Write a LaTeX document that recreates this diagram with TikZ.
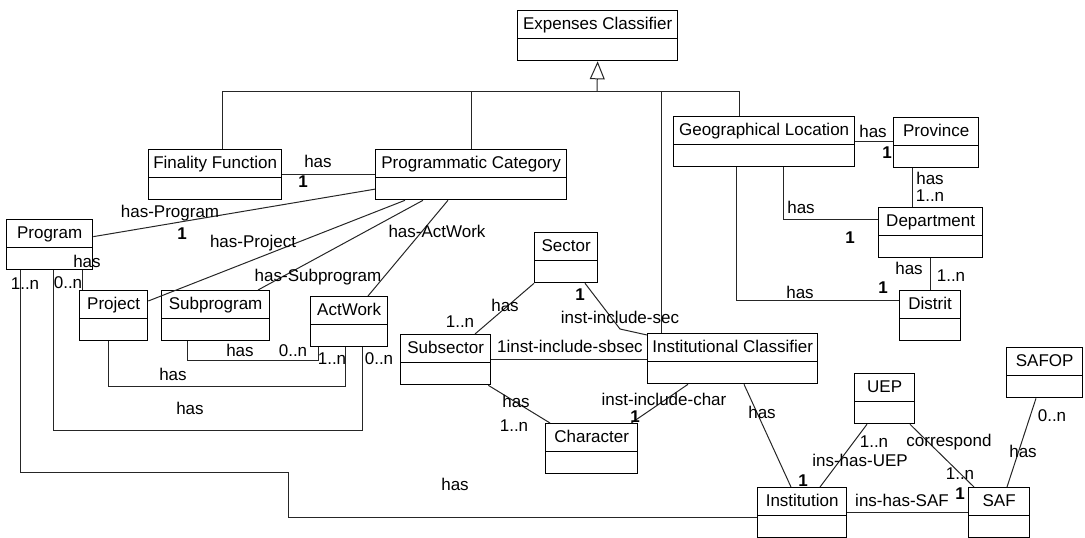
\documentclass[tikz,border=0pt]{standalone}
\usepackage{fontspec}
\setmainfont{Liberation Sans}
\usetikzlibrary{arrows.meta}

\begin{document}
\begin{tikzpicture}[
  x=1pt, y=-1pt,
  font=\fontsize{17}{20}\selectfont,
  cls/.style={draw, line width=1.3pt, anchor=north west, inner sep=0pt,
    minimum width=#1, minimum height=50pt, text height=18.5pt, text depth=31.5pt,
    path picture={\draw[line width=1pt]
      ([yshift=-28pt]path picture bounding box.north west) --
      ([yshift=-28pt]path picture bounding box.north east);}},
  lbl/.style={anchor=base, inner sep=0pt},
  link/.style={line width=1pt, black!85},
  inherit/.style={link, -{Triangle[open, length=18pt, width=15pt]}}
]
\useasboundingbox (0,0) rectangle (1085,538);

% classes
\node[cls=160pt] (expc) at (517,10) {Expenses Classifier};
\node[cls=133pt] (finf) at (148,149) {Finality Function};
\node[cls=191pt] (progc) at (375,149) {Programmatic Category};
\node[cls=181pt] (geo) at (673,116) {Geographical Location};
\node[cls=85pt] (prov) at (893,117) {Province};
\node[cls=104pt] (dept) at (878,207) {Department};
\node[cls=61pt] (dist) at (899,290) {Distrit};
\node[cls=86pt] (prog) at (6,219) {Program};
\node[cls=68pt] (proj) at (79,290) {Project};
\node[cls=108pt] (subp) at (161,290) {Subprogram};
\node[cls=77pt] (actw) at (310,296) {ActWork};
\node[cls=63pt] (sect) at (534,232) {Sector};
\node[cls=90pt] (subs) at (400,334) {Subsector};
\node[cls=92pt] (chr) at (545,423) {Character};
\node[cls=170pt] (instc) at (647,333) {Institutional Classifier};
\node[cls=89pt] (inst) at (757,487) {Institution};
\node[cls=60pt] (uep) at (854,373) {UEP};
\node[cls=61pt] (saf) at (968,487) {SAF};
\node[cls=76pt] (safop) at (1006,347) {SAFOP};

% generalization
\coordinate (gen) at (597,91);
\draw[inherit] (gen) -- (expc.south);
\draw[link] (gen) -| ([xshift=74pt]finf.north west);
\draw[link] (gen) -| (progc.north);
\draw[link] (gen) -| ([xshift=14pt]instc.north west);
\draw[link] (gen) -| ([xshift=66pt]geo.north west);

% programmatic side
\draw[link] (finf.east) -- (finf.east -| progc.west);
\draw[link] ([yshift=8pt]prog.east) -- ([yshift=-14.5pt]progc.west);
\draw[link] ([xshift=76pt]prog.south west) -- ([xshift=3pt]proj.north west);
\draw[link] ([yshift=-11pt]proj.north east) -- ([xshift=30pt]progc.south west);
\draw[link] ([xshift=97pt]subp.north west) -- ([xshift=48pt]progc.south west);
\draw[link] ([xshift=58pt]actw.north west) -- ([xshift=73pt]progc.south west);
\draw[link] ([xshift=26pt]subp.south west) |- ([xshift=8pt,yshift=-13pt]actw.south west) -- ([xshift=8pt]actw.south west);
\draw[link] ([xshift=29pt]proj.south west) |- ([xshift=35pt,yshift=-39pt]actw.south west) -- ([xshift=35pt]actw.south west);
\draw[link] ([xshift=47pt]prog.south west) |- ([xshift=52pt,yshift=-83pt]actw.south west) -- ([xshift=52pt]actw.south west);
\coordinate (jog) at (288,472);
\draw[link] ([xshift=14pt]prog.south west) |- (jog) |- ([yshift=-30pt]inst.north west);

% institutional side
\coordinate (kink) at (620,329);
\draw[link] (sect.south west) -- ([xshift=75pt]subs.north west);
\draw[link] ([xshift=51pt]sect.south west) -- (kink) -- ([yshift=-2pt]instc.north west);
\draw[link] (subs.east) -- (subs.east -| instc.west);
\draw[link] ([xshift=-3pt]subs.south east) -- ([xshift=5pt]chr.north west);
\draw[link] ([xshift=-7pt]chr.north east) -- ([xshift=41pt]instc.south west);
\draw[link] ([xshift=97pt]instc.south west) -- ([xshift=34pt]inst.north west);
\draw[link] ([xshift=13pt]uep.south west) -- ([xshift=63pt]inst.north west);
\draw[link] ([xshift=56pt]uep.south west) -- ([xshift=6pt]saf.north west);
\draw[link] (inst.east) -- (inst.east -| saf.west);
\draw[link] ([xshift=30pt]safop.south west) -- ([xshift=39pt]saf.north west);

% geographical side
\draw[link] (geo.east) -- (geo.east -| prov.west);
\draw[link] ([xshift=19pt]prov.south west) -- ([xshift=34pt]dept.north west);
\draw[link] ([xshift=110pt]geo.south west) |- ([yshift=-12pt]dept.north west);
\draw[link] ([xshift=63pt]geo.south west) |- ([yshift=-10pt]dist.north west);
\draw[link] ([xshift=52pt]dept.south west) -- ([xshift=31pt]dist.north west);

% role names and multiplicities
\foreach \x/\y/\t [count=\i] in {
  318/167/has, 303/187/\textbf{1}, 170/217/has-Program, 182/239/\textbf{1},
  253/247/has-Project, 318/281/has-Subprogram, 437/237/has-ActWork,
  87/267/has, 25/289/1..n, 68/288/0..n,
  240/356/has, 293/356/0..n, 332/364/1..n, 379/364/0..n,
  173/380/has, 190/414/has, 455/490/has,
  505/311/has, 460/327/1..n, 580/300/\textbf{1}, 620/323/inst-include-sec,
  570/352/1inst-include-sbsec, 516/407/has, 514/431/1..n,
  664/405/inst-include-char, 635/422/\textbf{1},
  762/418/has, 803/486/\textbf{1}, 874/447/1..n, 860/466/ins-has-UEP,
  949/446/correspond, 960/479/1..n, 902/506/ins-has-SAF, 960/499/\textbf{1},
  1052/421/0..n, 1023/457/has,
  873/137/has, 887/158/\textbf{1}, 930/184/has, 930/201/1..n,
  801/213/has, 850/243/\textbf{1}, 909/274/has, 951/281/1..n,
  800/298/has, 883/293/\textbf{1}}
  \node[lbl] (lab\i) at (\x,\y) {\t};

\end{tikzpicture}
\end{document}
